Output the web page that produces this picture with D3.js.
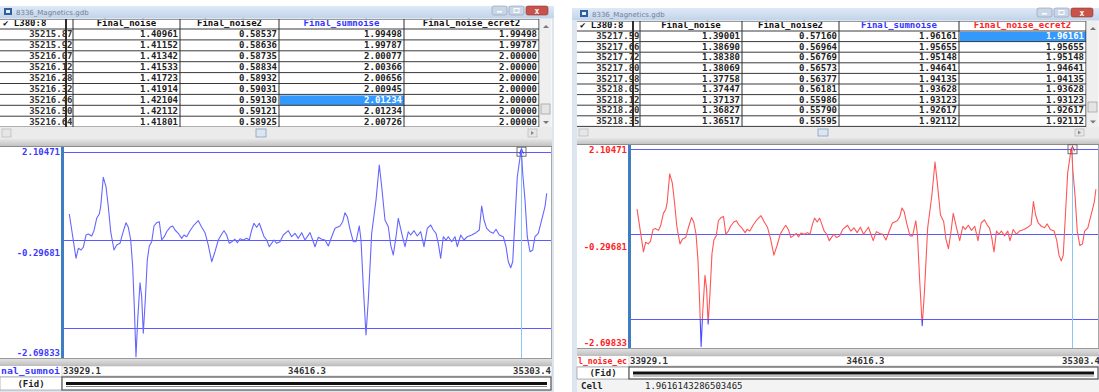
<!DOCTYPE html>
<html><head><meta charset="utf-8">
<script src="https://cdn.jsdelivr.net/npm/d3@7"></script>
<style>
html,body{margin:0;padding:0;background:#fff;overflow:hidden}
svg{display:block}
text{font-family:"DejaVu Sans Mono",monospace;font-weight:bold;font-size:9px}
</style></head><body>
<svg id="c" width="1099" height="392"></svg>
<script>
// ---------------- data ----------------
const windowTitle = "8336_Magnetics.gdb";
const tableHeaders = ["\u2714 L380:8", "Final_noise", "Final_noise2", "Final_sumnoise", "Final_noise_ecret2"];

const leftFidRows   = ["35215.87","35215.92","35216.07","35216.12","35216.28","35216.32","35216.46","35216.50","35216.64"];
const leftNoise     = [1.40961,1.41152,1.41342,1.41533,1.41723,1.41914,1.42104,1.42112,1.41801];
const leftNoise2    = [0.58537,0.58636,0.58735,0.58834,0.58932,0.59031,0.59130,0.59121,0.58925];
const leftSumnoise  = [1.99498,1.99787,2.00077,2.00366,2.00656,2.00945,2.01234,2.01234,2.00726];
const leftEcret2    = [1.99498,1.99787,2.00000,2.00000,2.00000,2.00000,2.00000,2.00000,2.00000];

const rightFidRows  = ["35217.59","35217.66","35217.72","35217.80","35217.98","35218.05","35218.12","35218.20","35218.35"];
const rightNoise    = [1.39001,1.38690,1.38380,1.38069,1.37758,1.37447,1.37137,1.36827,1.36517];
const rightNoise2   = [0.57160,0.56964,0.56769,0.56573,0.56377,0.56181,0.55986,0.55790,0.55595];
const rightSumnoise = [1.96161,1.95655,1.95148,1.94641,1.94135,1.93628,1.93123,1.92617,1.92112];
const rightEcret2   = [1.96161,1.95655,1.95148,1.94641,1.94135,1.93628,1.93123,1.92617,1.92112];
const cellValue = "1.9616143286503465";

const axisRange  = [-2.69833, 2.10471];
const axisLabels = ["2.10471", "-0.29681", "-2.69833"];
const refLevels  = [2, 0, -2];
const clipLevels = [-2, 2];
const fidTicks   = ["33929.1", "34616.3", "35303.4"];

const profileFid = [
33949.6,33968.4,33974.8,33982.4,33988.8,33996.4,34002.9,34012.4,34018.8,34026.4,
34033.7,34037.6,34044.9,34052.5,34059.0,34065.7,34074.9,34082.5,34091.8,34099.3,
34108.6,34115.1,34121.8,34127.4,34131.9,34136.6,34141.4,34147.9,34152.6,34157.1,
34162.7,34168.3,34173.9,34180.7,34187.1,34194.7,34202.0,34208.7,34216.0,34222.7,
34232.0,34239.6,34246.0,34255.3,34264.8,34271.3,34278.8,34288.1,34299.3,34311.4,
34320.9,34330.2,34339.4,34349.0,34358.2,34367.5,34377.0,34383.5,34391.0,34398.3,
34405.1,34414.3,34420.8,34428.3,34437.6,34447.1,34454.4,34461.2,34467.6,34475.2,
34482.5,34489.2,34495.7,34503.2,34510.5,34517.2,34523.7,34531.3,34540.5,34549.8,
34563.8,34573.3,34582.6,34591.8,34601.4,34610.6,34624.7,34632.2,34638.7,34647.9,
34657.5,34666.7,34676.0,34685.5,34694.8,34708.8,34716.4,34722.8,34729.3,34736.9,
34746.1,34753.7,34762.9,34767.7,34774.2,34781.7,34788.2,34797.7,34809.8,34819.0,
34825.8,34835.0,34844.3,34851.0,34858.3,34865.9,34872.3,34881.9,34891.1,34900.4,
34907.1,34916.4,34925.6,34935.1,34944.4,34953.7,34963.2,34970.5,34978.1,34984.5,
34991.2,34998.5,35006.1,35012.6,35022.1,35031.3,35037.8,35047.3,35056.6,35065.8,
35078.2,35090.2,35099.5,35106.2,35112.7,35120.2,35129.5,35138.8,35146.3,35155.6,
35166.8,35174.4,35180.8,35187.6,35193.2,35199.6,35206.1,35215.87,35216.46,35216.64,
35217.59,35218.35,35221.2,35227.7,35234.1,35241.7,35249.3,35255.7,35265.0,35274.5,
35283.8,35288.5];
const profileSumnoise = [
0.587,-0.418,-0.192,-0.230,-0.169,0.110,0.133,0.088,0.208,0.489,
0.587,0.752,1.419,1.206,0.752,0.185,-0.230,-0.117,-0.078,0.149,
0.389,0.285,-0.003,-0.609,-1.517,-2.650,-1.818,-0.972,-1.290,-2.120,
-1.365,-0.457,-0.139,-0.042,0.315,0.389,0.412,-0.003,0.072,0.185,
0.285,0.315,0.224,0.149,0.035,0.110,0.072,0.208,0.337,0.435,
0.285,0.163,-0.117,-0.496,-0.269,-0.003,0.133,0.208,0.110,-0.078,
-0.042,0.013,-0.064,0.026,-0.003,0.035,-0.003,0.224,0.376,0.285,
0.376,0.224,0.072,-0.003,-0.155,-0.078,-0.003,-0.078,-0.042,0.110,
0.208,0.072,0.149,0.035,0.163,-0.003,0.163,-0.003,-0.155,0.058,
0.013,-0.003,-0.139,0.072,0.262,0.315,0.412,0.616,0.525,0.240,
-0.042,-0.042,0.315,-0.003,-1.063,-2.159,-1.365,0.149,0.904,1.698,
1.206,0.451,0.298,-0.117,-0.344,0.072,0.489,0.149,-0.155,0.185,
0.110,0.208,0.088,0.185,-0.155,0.262,0.337,0.224,0.149,-0.078,
-0.418,0.072,-0.003,0.072,-0.042,0.072,-0.155,0.110,-0.003,0.072,
0.110,0.163,0.224,0.768,0.451,0.262,0.185,0.149,0.240,0.110,
0.072,-0.155,-0.496,-0.632,-0.496,0.451,1.433,1.995,2.012,2.007,
1.962,1.921,1.510,0.904,0.072,-0.269,-0.230,0.072,0.149,0.451,
0.752,1.056];

// ---------------- drawing ----------------
const svg = d3.select("#c");
svg.append("rect").attr("width",1099).attr("height",392).attr("fill","#fff");
const defs = svg.append("defs");
const tg = defs.append("linearGradient").attr("id","tbar").attr("x1",0).attr("y1",0).attr("x2",0).attr("y2",1);
tg.append("stop").attr("offset","0%").attr("stop-color","#dfe9f6");
tg.append("stop").attr("offset","100%").attr("stop-color","#c2d4ea");
const bg = defs.append("linearGradient").attr("id","band").attr("x1",0).attr("y1",0).attr("x2",0).attr("y2",1);
bg.append("stop").attr("offset","0%").attr("stop-color","#e6e6e6");
bg.append("stop").attr("offset","100%").attr("stop-color","#bdbdbd");

const fmt = d3.format(".5f");

function drawWindow(L, T, id) {
  const g = svg.append("g");
  const W = L.x1 - L.x0;
  g.append("rect").attr("x",L.x0).attr("y",L.title[0]).attr("width",W).attr("height",392-L.title[0]).attr("fill","#dde5ee");
  g.append("rect").attr("x",L.x0).attr("y",L.title[0]).attr("width",W).attr("height",L.title[1]-L.title[0]).attr("fill","url(#tbar)");
  g.append("rect").attr("x",L.x0+L.pad+2).attr("y",L.title[0]+2).attr("width",8).attr("height",7).attr("fill","#2f5f9f");
  g.append("rect").attr("x",L.x0+L.pad+4).attr("y",L.title[0]+4).attr("width",4).attr("height",3).attr("fill","#e8eef8");
  g.append("text").attr("x",L.x0+L.pad+14).attr("y",L.title[0]+8.5).text(windowTitle)
    .style("font-family","DejaVu Sans").style("font-weight","normal").style("font-size","7px").attr("fill","#5a6a82").attr("opacity",0.8);
  const bx = L.x1 - L.btnRight;
  const by = L.title[0];
  g.append("rect").attr("x",bx-58).attr("y",by).attr("width",15).attr("height",9).attr("rx",2).attr("fill","#c9d6e6").attr("stroke","#8a9ab2").attr("stroke-width",0.6);
  g.append("rect").attr("x",bx-53).attr("y",by+5).attr("width",5).attr("height",1.5).attr("fill","#fff");
  g.append("rect").attr("x",bx-41).attr("y",by).attr("width",15).attr("height",9).attr("rx",2).attr("fill","#c9d6e6").attr("stroke","#8a9ab2").attr("stroke-width",0.6);
  g.append("rect").attr("x",bx-36).attr("y",by+2.5).attr("width",5).attr("height",4).attr("fill","none").attr("stroke","#fff").attr("stroke-width",1);
  g.append("rect").attr("x",bx-24).attr("y",by).attr("width",22).attr("height",9).attr("rx",2).attr("fill","#c9524a").attr("stroke","#8a3a34").attr("stroke-width",0.6);
  g.append("text").attr("x",bx-13).attr("y",by+7.5).attr("text-anchor","middle").attr("fill","#fff").style("font-size","8px").text("x");

  // ---- table ----
  const c = L.cols;
  const tx0 = c[0], tx1 = c[6] + 13;
  const rowsEnd = L.rowTop + L.rowH * T.fids.length;
  g.append("rect").attr("x",tx0).attr("y",L.header[0]).attr("width",tx1-tx0).attr("height",rowsEnd-L.header[0]).attr("fill","#fff");
  g.append("text").attr("x",c[0]+3).attr("y",L.header[1]-3).attr("fill","#111").text(tableHeaders[0]);
  const colColors = T.headerColors;
  for (let k = 0; k < 4; k++) {
    const a = c[k+2], b = c[k+3];
    g.append("text").attr("x",(a+b)/2).attr("y",L.header[1]-3).attr("text-anchor","middle")
      .attr("fill",colColors[k]).text(tableHeaders[k+1]);
  }
  const series = [T.noise, T.noise2, T.sum, T.ecret];
  T.fids.forEach((f, r) => {
    const ry = L.rowTop + r * L.rowH;
    g.append("text").attr("x",c[2]-0.5).attr("y",ry+L.rowH-2.5).attr("text-anchor","end").attr("fill","#333").text(f);
    series.forEach((s, k) => {
      const a = c[k+2], b = c[k+3];
      const hl = (r === T.hlRow && k === T.hlCol);
      if (hl) g.append("rect").attr("x",a+1).attr("y",ry+1).attr("width",b-a-1).attr("height",L.rowH-1).attr("fill","#3399ff");
      g.append("text").attr("x",b-2).attr("y",ry+L.rowH-2.5).attr("text-anchor","end")
        .attr("fill", hl ? "#fff" : "#222").text(fmt(s[r]));
    });
  });
  for (let r = 0; r <= T.fids.length; r++) {
    const ry = L.rowTop + r * L.rowH;
    g.append("line").attr("x1",tx0).attr("x2",c[6]).attr("y1",ry).attr("y2",ry).attr("stroke","#3a3a3a").attr("stroke-width",1);
  }
  g.append("line").attr("x1",tx0).attr("x2",c[6]).attr("y1",L.header[0]+0.5).attr("y2",L.header[0]+0.5).attr("stroke","#9a9a9a");
  c.forEach((cx, i) => {
    if (i === 0) return;
    g.append("line").attr("x1",cx).attr("x2",cx).attr("y1",L.header[0]).attr("y2",rowsEnd)
      .attr("stroke","#2e2e2e").attr("stroke-width", i === 1 ? 2 : 1);
  });
  g.append("rect").attr("x",c[6]+0.5).attr("y",L.header[0]).attr("width",12).attr("height",rowsEnd-L.header[0]).attr("fill","#efefef");
  g.append("path").attr("d",`M${c[6]+4},${L.header[0]+9}l3,-3l3,3z`).attr("fill","#777");
  g.append("path").attr("d",`M${c[6]+4},${rowsEnd-6}l3,3l3,-3z`).attr("fill","#777");
  g.append("rect").attr("x",c[6]+2).attr("y",L.vthumb).attr("width",9).attr("height",10).attr("fill","#e4e4e4").attr("stroke","#9a9a9a").attr("stroke-width",0.7);
  g.append("rect").attr("x",tx0).attr("y",L.hscroll[0]).attr("width",tx1-tx0).attr("height",L.hscroll[1]-L.hscroll[0]).attr("fill","#ebebeb");
  g.append("rect").attr("x",tx0+2).attr("y",L.hscroll[0]+2).attr("width",9).attr("height",L.hscroll[1]-L.hscroll[0]-4).attr("fill","#e6e6e6").attr("stroke","#b8b8b8").attr("stroke-width",0.7);
  g.append("rect").attr("x",L.hthumb).attr("y",L.hscroll[0]+2).attr("width",10).attr("height",L.hscroll[1]-L.hscroll[0]-4).attr("fill","#dbe6f2").attr("stroke","#8aa0b8").attr("stroke-width",0.8);
  g.append("rect").attr("x",c[6]-11).attr("y",L.hscroll[0]+2).attr("width",9).attr("height",L.hscroll[1]-L.hscroll[0]-4).attr("fill","#e6e6e6").attr("stroke","#b8b8b8").attr("stroke-width",0.7);
  g.append("path").attr("d",`M${c[6]-8},${(L.hscroll[0]+L.hscroll[1])/2-2}l3,2l-3,2z`).attr("fill","#888");
  g.append("rect").attr("x",tx0).attr("y",L.hscroll[1]).attr("width",tx1-tx0).attr("height",L.chart[0]-L.hscroll[1]).attr("fill","url(#band)");
  g.append("line").attr("x1",tx0).attr("x2",tx1).attr("y1",L.chart[0]-0.5).attr("y2",L.chart[0]-0.5).attr("stroke","#8c8c8c");

  // ---- profile chart ----
  const cx0 = tx0, cx1 = L.chartRight;
  g.append("rect").attr("x",cx0).attr("y",L.chart[0]).attr("width",cx1-cx0).attr("height",L.chart[1]-L.chart[0]).attr("fill","#fff");
  const x = d3.scaleLinear().domain([+fidTicks[0], +fidTicks[2]]).range(L.plotX);
  const y = d3.scaleLinear().domain(axisRange).range(L.yRange);
  const clipId = "clip" + id;
  defs.append("clipPath").attr("id",clipId).append("rect")
    .attr("x",L.axisX+1).attr("y",L.chart[0]).attr("width",cx1-L.axisX-1).attr("height",L.chart[1]-L.chart[0]);
  const pg = g.append("g").attr("clip-path",`url(#${clipId})`);
  refLevels.forEach(v => {
    pg.append("line").attr("x1",L.axisX).attr("x2",cx1).attr("y1",Math.round(y(v))+0.5).attr("y2",Math.round(y(v))+0.5)
      .attr("stroke","#5a5aff").attr("stroke-width",1);
  });
  const curX = Math.round(x(+T.cursorFid)) + 0.5;
  pg.append("line").attr("x1",curX).attr("x2",curX).attr("y1",L.chart[0]).attr("y2",L.chart[1]).attr("stroke","#8cc6f2").attr("stroke-width",1);
  const line = d3.line().x((d, i) => x(profileFid[i])).y(d => y(d));
  if (!T.showClipped) {
    pg.append("path").attr("d",line(profileSumnoise)).attr("fill","none").attr("stroke","#6666ff").attr("stroke-width",1.1).attr("stroke-linejoin","round");
  } else {
    const ya = y(clipLevels[1]), yb = y(clipLevels[0]);
    const cpOut = defs.append("clipPath").attr("id","out"+id);
    cpOut.append("rect").attr("x",L.axisX+1).attr("y",L.chart[0]).attr("width",cx1-L.axisX).attr("height",ya-L.chart[0]);
    cpOut.append("rect").attr("x",L.axisX+1).attr("y",yb).attr("width",cx1-L.axisX).attr("height",L.chart[1]-yb);
    pg.append("g").attr("clip-path",`url(#out${id})`).append("path").attr("d",line(profileSumnoise))
      .attr("fill","none").attr("stroke","#4a4aff").attr("stroke-width",1.1).attr("stroke-linejoin","round");
    defs.append("clipPath").attr("id","in"+id).append("rect")
      .attr("x",L.axisX+1).attr("y",ya).attr("width",cx1-L.axisX).attr("height",yb-ya);
    pg.append("g").attr("clip-path",`url(#in${id})`).append("path").attr("d",line(profileSumnoise))
      .attr("fill","none").attr("stroke","#ff5555").attr("stroke-width",1.1).attr("stroke-linejoin","round");
  }
  const my = y(refLevels[0]);
  g.append("rect").attr("x",curX-4.5).attr("y",my-4.5).attr("width",9).attr("height",9).attr("fill","none").attr("stroke","#606060").attr("stroke-width",0.9);
  g.append("path").attr("d",`M${curX-2},${my+2}L${curX},${my-3}L${curX+2},${my+2}`).attr("fill","none").attr("stroke",T.curveColor).attr("stroke-width",1);
  g.append("rect").attr("x",L.axisX-1).attr("y",L.chart[0]).attr("width",3).attr("height",L.chart[1]-L.chart[0]).attr("fill","#3f7ec2");
  const ymid = (L.yRange[0] + L.yRange[1]) / 2;
  const lblY = [L.yRange[1] + 8, ymid + 3, L.yRange[0] - 3];
  axisLabels.forEach((t, i) => {
    g.append("text").attr("x",L.axisX-2).attr("y",lblY[i]).attr("text-anchor","end").attr("fill",T.labelColor).text(t);
  });
  g.append("line").attr("x1",cx1-0.5).attr("x2",cx1-0.5).attr("y1",L.chart[0]).attr("y2",L.chart[1]).attr("stroke","#a8a8a8");

  // ---- bottom band / strips ----
  g.append("rect").attr("x",tx0).attr("y",L.chart[1]).attr("width",tx1-tx0).attr("height",L.band[1]-L.chart[1]).attr("fill","url(#band)");
  g.append("line").attr("x1",tx0).attr("x2",tx1).attr("y1",L.chart[1]+0.5).attr("y2",L.chart[1]+0.5).attr("stroke","#999");
  g.append("rect").attr("x",tx0).attr("y",L.band[1]).attr("width",L.axisX-tx0).attr("height",L.strip[1]-L.band[1]).attr("fill","#fff");
  g.append("text").attr("x",tx0+1).attr("y",L.strip[1]-2).attr("fill",T.labelColor)
    .attr("textLength", L.axisX-tx0-3).attr("lengthAdjust","spacingAndGlyphs").text(T.stripLabel);
  g.append("rect").attr("x",L.axisX).attr("y",L.band[1]).attr("width",cx1-L.axisX).attr("height",L.strip[1]-L.band[1]).attr("fill","#fff").attr("stroke","#bbb").attr("stroke-width",0.6);
  const tickAnchors = ["start","middle","end"];
  const tickX = [L.axisX + 1, x(+fidTicks[1]), L.plotX[1] - 1];
  fidTicks.forEach((t, i) => {
    g.append("text").attr("x",tickX[i]).attr("y",L.strip[1]-2).attr("text-anchor",tickAnchors[i]).attr("fill","#333").text(t);
  });
  g.append("rect").attr("x",tx0).attr("y",L.fidRow[0]).attr("width",L.axisX-tx0).attr("height",L.fidRow[1]-L.fidRow[0]).attr("fill","#fff").attr("stroke","#888").attr("stroke-width",0.6);
  g.append("text").attr("x",(tx0+L.axisX)/2).attr("y",L.fidRow[1]-3).attr("text-anchor","middle").attr("fill","#222").text("(Fid)");
  g.append("rect").attr("x",L.axisX).attr("y",L.fidRow[0]).attr("width",cx1-L.axisX-1).attr("height",L.fidRow[1]-L.fidRow[0]).attr("fill","#fff").attr("stroke","#555").attr("stroke-width",1.2);
  const barY = (L.fidRow[0]+L.fidRow[1])/2;
  g.append("rect").attr("x",L.axisX+4).attr("y",barY-1.5).attr("width",cx1-L.axisX-9).attr("height",3).attr("fill","#111");
  g.append("line").attr("x1",L.axisX+4).attr("x2",cx1-5).attr("y1",barY+3).attr("y2",barY+3).attr("stroke","#666").attr("stroke-width",0.8);
  if (L.cellRow) {
    g.append("rect").attr("x",tx0).attr("y",L.cellRow[0]).attr("width",tx1-tx0).attr("height",L.cellRow[1]-L.cellRow[0]).attr("fill","#f3f3f3");
    g.append("text").attr("x",tx0+4).attr("y",L.cellRow[1]-3).attr("fill","#222").text("Cell");
    g.append("text").attr("x",tx0+68).attr("y",L.cellRow[1]-3).attr("fill","#222").style("font-weight","normal").text(cellValue);
  }
}

const leftLayout = {
  x0: 0, x1: 554, pad: 2, btnRight: 4,
  title: [6, 18], header: [19, 29], rowTop: 29, rowH: 10.9,
  hscroll: [127, 139], chart: [147, 358], band: [358, 366], strip: [366, 376], fidRow: [377, 390],
  cols: [0, 66, 73, 180, 279, 404, 539], vthumb: 104, hthumb: 256,
  plotX: [62, 552], axisX: 62, chartRight: 552, yRange: [358.8, 147.1]
};
const rightLayout = {
  x0: 572, x1: 1099, pad: 6, btnRight: 4,
  title: [8, 20], header: [21, 31], rowTop: 31, rowH: 10.6,
  hscroll: [127, 138], chart: [145, 348], band: [348, 356], strip: [356, 366], fidRow: [367, 379], cellRow: [380, 392],
  cols: [577, 633, 640, 742, 839, 959, 1086], vthumb: 102, hthumb: 818,
  plotX: [630, 1101], axisX: 629, chartRight: 1099, yRange: [348.6, 144.8]
};
svg.append("rect").attr("x",572).attr("y",8).attr("width",5).attr("height",384).attr("fill","#d6dee8");

drawWindow(leftLayout, {
  fids: leftFidRows, noise: leftNoise, noise2: leftNoise2, sum: leftSumnoise, ecret: leftEcret2,
  hlRow: 6, hlCol: 2, headerColors: ["#111","#111","#3333ff","#111"],
  cursorFid: leftFidRows[6], labelColor: "#3a3aff", curveColor: "#3a3aff",
  stripLabel: "nal_sumnoi", showClipped: false
}, "L");
drawWindow(rightLayout, {
  fids: rightFidRows, noise: rightNoise, noise2: rightNoise2, sum: rightSumnoise, ecret: rightEcret2,
  hlRow: 0, hlCol: 3, headerColors: ["#111","#111","#3333ff","#ff2020"],
  cursorFid: rightFidRows[0], labelColor: "#ff2020", curveColor: "#ff2020",
  stripLabel: "l_noise_ec", showClipped: true
}, "R");
</script>
</body></html>
